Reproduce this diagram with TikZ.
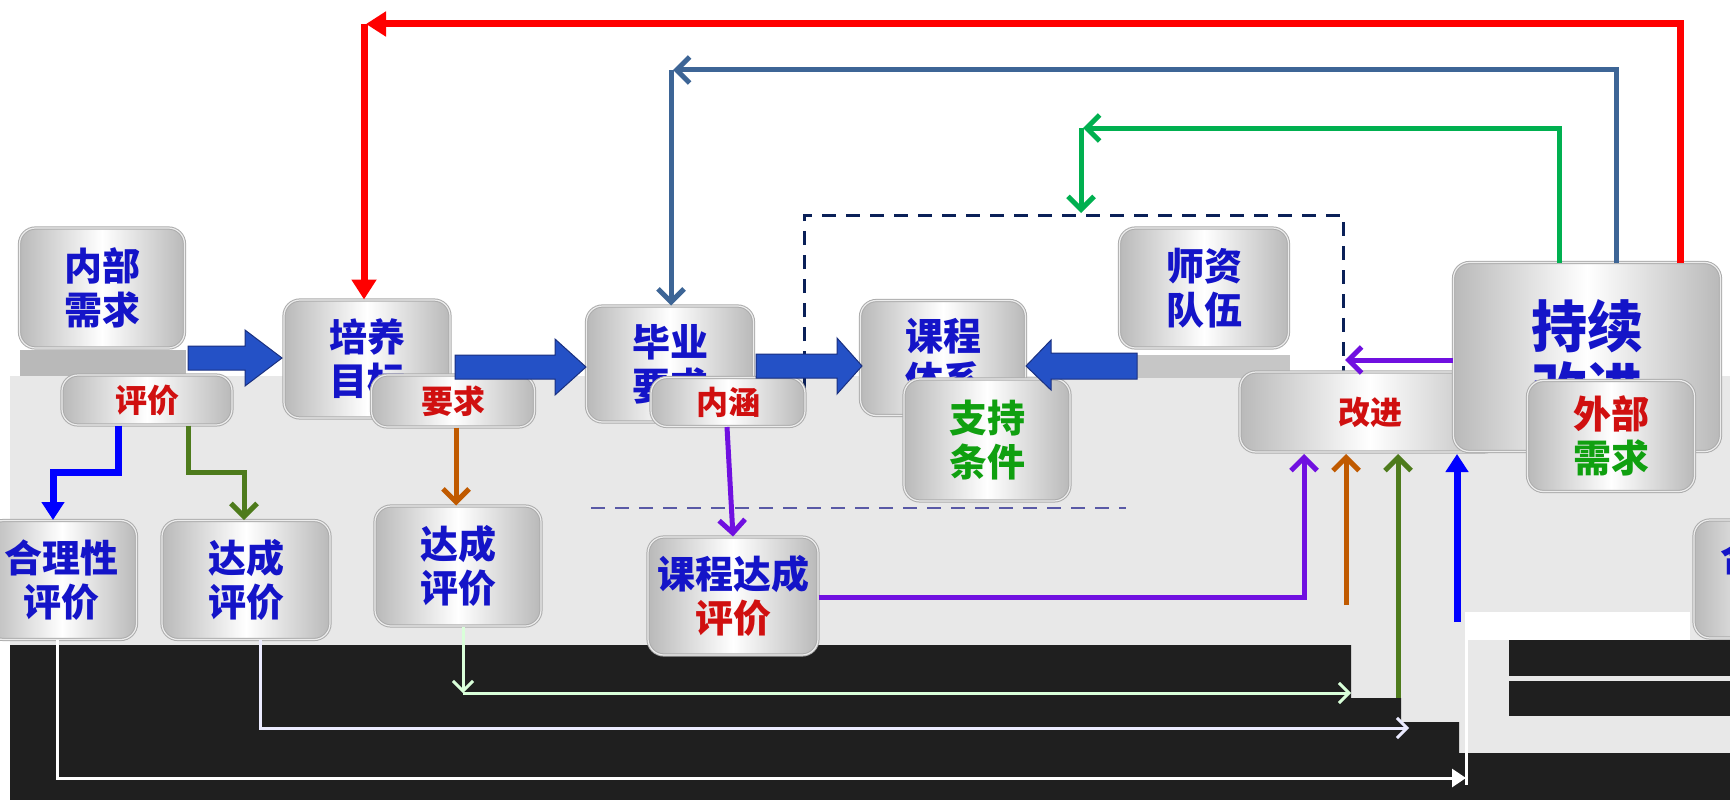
\documentclass[tikz,border=0pt]{standalone}
\usepackage{fontspec}
\setmainfont{Noto Sans CJK SC}
\usetikzlibrary{arrows.meta,calc}
\definecolor{txtblue}{HTML}{1414C8}
\definecolor{txtred}{HTML}{D01010}
\definecolor{txtgreen}{HTML}{10A010}
\definecolor{blkfill}{HTML}{2451C6}
\definecolor{blkdraw}{HTML}{1A3080}
\definecolor{steel}{HTML}{3D6596}
\definecolor{grn}{HTML}{00B050}
\definecolor{olivec}{HTML}{4E7B1C}
\definecolor{orng}{HTML}{C05A00}
\definecolor{purp}{HTML}{7010E0}
\definecolor{navy}{HTML}{0A2058}
\definecolor{bgray}{HTML}{E8E8E8}
\definecolor{dkband}{HTML}{1F1F1F}
\newcommand\blkR[4]{\filldraw[fill=blkfill,draw=blkdraw,line width=1pt] (#1,#4-12) -- (#2,#4-12) -- (#2,#4-28) -- (#3,#4) -- (#2,#4+28) -- (#2,#4+12) -- (#1,#4+12) -- cycle;}
\begin{document}
\begin{tikzpicture}[x=1pt,y=-1pt,
  box/.style={rectangle, rounded corners=16pt, draw=gray!65, line width=1pt, double=white!85!gray, double distance=1.2pt,
    left color=gray!55, right color=gray!55, middle color=white, inner sep=0pt,
    font=\bfseries\fontsize{38}{44}\selectfont, text=txtblue, align=center},
  gbox/.style={box, font=\bfseries\fontsize{32}{36}\selectfont, text=txtred},
  ln/.style={line width=5pt},
  barb/.style={-{Straight Barb[length=13pt,width=26pt]}},
  tri/.style={-{Triangle[length=18pt,width=22pt]}},
  lightln/.style={line width=3pt},
]
\useasboundingbox (0,0) rectangle (1730,800);
\fill[white] (0,0) rectangle (1730,800);
% background bands
\fill[bgray] (10,376) rectangle (1730,800);
\fill[gray!55] (20,350) rectangle (186,376);
\fill[gray!45] (1120,355) rectangle (1290,378);
\fill[white] (1465,612) rectangle (1690,640);
\fill[dkband] (10,645) -- (1351,645) -- (1351,698) -- (1401,698) -- (1401,722) -- (1459,722) -- (1459,753) -- (1730,753) -- (1730,800) -- (10,800) -- cycle;
\fill[dkband] (1509,640) rectangle (1730,676);
\fill[dkband] (1509,681) rectangle (1730,716);

% dashed frame
\draw[navy, line width=3pt, dash pattern=on 14pt off 10pt] (804,413) -- (804,215) -- (1343,215) -- (1343,380);
\draw[gray!70!blue, line width=2.5pt, dash pattern=on 14pt off 10pt] (591,508) -- (1126,508);

% top row nodes
\node[box, minimum width=165pt, minimum height=120pt] (nbxq) at (102,288) {内部\\需求};
\node[box, minimum width=166pt, minimum height=118pt] (pymb) at (367,359) {培养\\目标};
\node[box, minimum width=167pt, minimum height=116pt] (byyq) at (670,364) {毕业\\要求};
\node[box, minimum width=165pt, minimum height=115pt] (kctx) at (943,358) {课程\\体系};
\node[box, minimum width=166pt, minimum height=122pt, text=txtgreen] (zctj) at (987,440) {支持\\条件};
\node[box, minimum width=169pt, minimum height=120pt] (szdw) at (1204,288) {师资\\队伍};
\node[gbox, minimum width=260pt, minimum height=80pt] (gjbox) at (1370,412) {改进};
\node[box, minimum width=267pt, minimum height=189pt, font=\bfseries\fontsize{56}{62}\selectfont] (cxgj) at (1587,357) {持续\\改进};
\node[box, minimum width=167pt, minimum height=111pt] (wbxq) at (1611,436) {\textcolor{txtred}{外部}\\\textcolor{txtgreen}{需求}};

% overlay boxes below top row
\node[gbox, minimum width=170pt, minimum height=50pt] (g1) at (147,400) {评价};
\node[gbox, minimum width=163pt, minimum height=52pt] (g2) at (453,401) {要求};
\node[gbox, minimum width=154pt, minimum height=49pt] (g3) at (728,402) {内涵};

% bottom row nodes
\node[box, minimum width=149pt, minimum height=119pt] (hlx) at (62,580) {合理性\\评价};
\node[box, minimum width=168pt, minimum height=119pt] (dc1) at (246,580) {达成\\评价};
\node[box, minimum width=166pt, minimum height=120pt] (dc2) at (458,566) {达成\\评价};
\node[box, minimum width=170pt, minimum height=118pt] (kcdc) at (733,596) {课程达成\\\textcolor{txtred}{评价}};
\node[box, minimum width=166pt, minimum height=118pt] (hlx2) at (1777,579) {合理性\\评价};

% block arrows
\blkR{188}{245}{282}{358}
\blkR{455}{555}{586}{367}
\blkR{756}{837}{862}{366}
\filldraw[fill=blkfill,draw=blkdraw,line width=1pt] (1137,353) -- (1051,353) -- (1051,340) -- (1026,366) -- (1051,390) -- (1051,379) -- (1137,379) -- cycle;

% feedback loops on top
\draw[red, line width=7pt, -{Triangle[length=20pt,width=24pt]}] (1680,263) -- (1680,24) -- (366,24);
\draw[red, line width=7pt, -{Triangle[length=20pt,width=24pt]}] (364,24) -- (pymb.north -| 364,0);
\draw[steel, ln, barb] (1616,263) -- (1616,70) -- (673,70);
\draw[steel, ln, barb] (671,70) -- (byyq.north -| 671,0);
\draw[grn, ln, barb] (1559,263) -- (1559,128) -- (1083,128);
\draw[grn, ln, barb] (1081,128) -- (1081,213);

% arrows to evaluations
\draw[blue, line width=7pt, tri] (g1.south -| 118,0) -- (118,472) -- (53,472) -- (hlx.north -| 53,0);
\draw[olivec, ln, barb] (g1.south -| 188,0) -- (188,472) -- (244,472) -- (dc1.north -| 244,0);
\draw[orng, ln, barb] (g2.south -| 456,0) -- (dc2.north -| 456,0);
\draw[purp, ln, barb] (g3.south -| 727,0) -- (kcdc.north);
\draw[purp, ln, barb] (cxgj.west |- 0,360) -- (1345,360);

% arrows up to improvement
\draw[purp, ln, barb] (kcdc.east |- 0,597) -| (1304,454);
\draw[orng, ln, barb] (1346,605) -- (1346,454);
\draw[olivec, ln, barb] (1398,698) -- (1398,454);
\draw[blue, line width=7pt, tri] (1457,622) -- (1457,454);

% light lines across the dark band
\draw[green!15!white, lightln, -{Straight Barb[length=10pt,width=20pt]}] (dc2.south -| 463,0) -- (463,693);
\draw[green!15!white, lightln, -{Straight Barb[length=10pt,width=20pt]}] (463,693) -- (1351,693);
\draw[blue!8!white, lightln, -{Straight Barb[length=10pt,width=20pt]}] (dc1.south -| 260,0) -- (260,728) -- (1409,728);
\draw[white, lightln, -{Triangle[length=14pt,width=18pt]}] (hlx.south -| 57,0) -- (57,778) -- (1466,778);
\draw[white, lightln] (1466,622) -- (1466,785);
\end{tikzpicture}
\end{document}
